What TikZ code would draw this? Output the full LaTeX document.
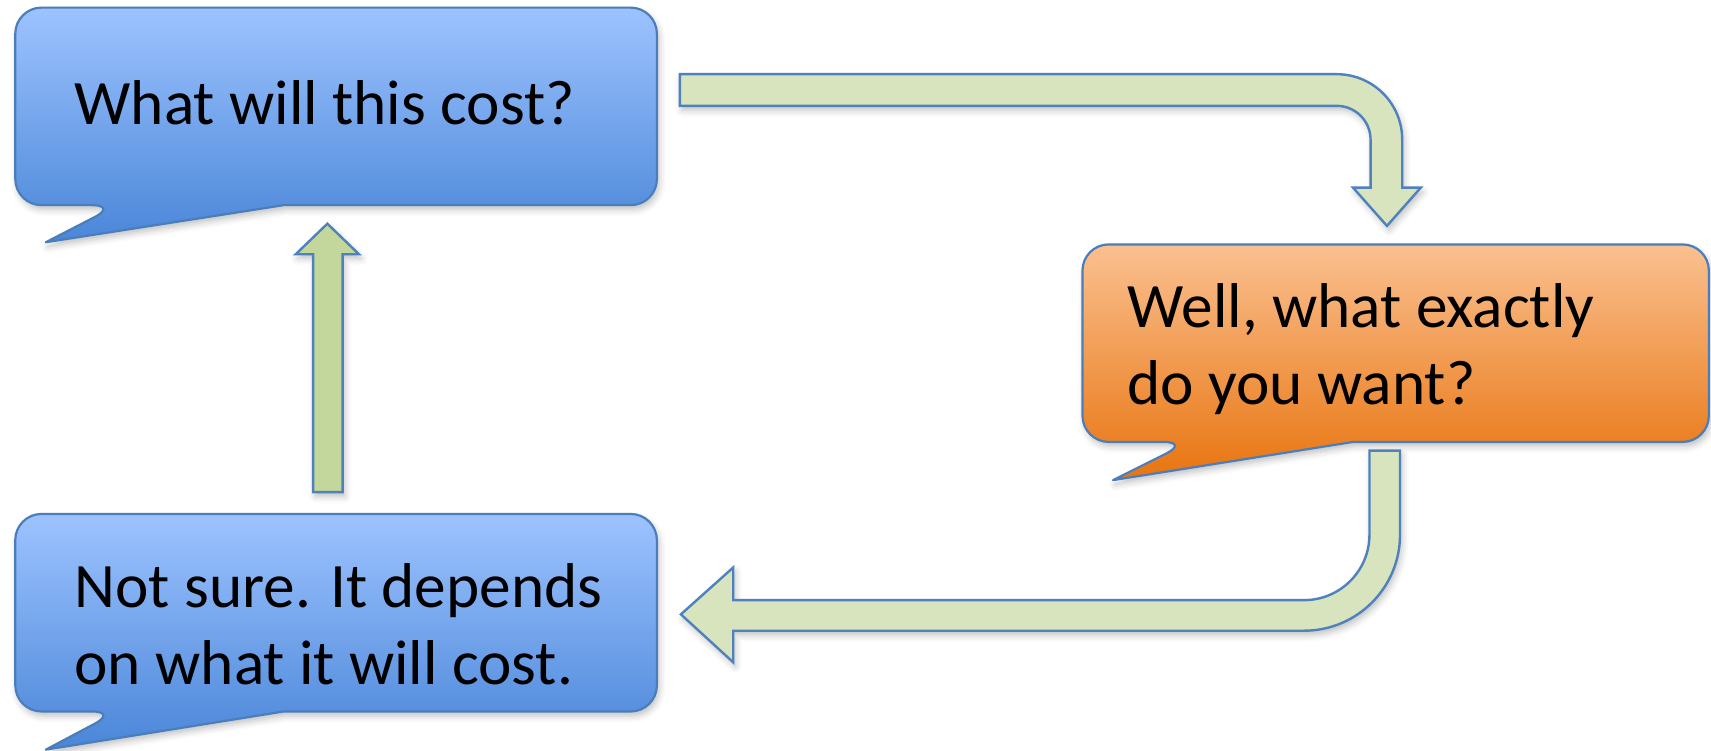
\documentclass[tikz,border=0pt]{standalone}
\usepackage{fontspec}
\setmainfont{Carlito}
\usetikzlibrary{shadows.blur}
\definecolor{blueTop}{HTML}{9DC3FF}
\definecolor{blueBot}{HTML}{4A86D8}
\definecolor{orTop}{HTML}{FAC090}
\definecolor{orBot}{HTML}{E8740F}
\definecolor{edge}{HTML}{4A7EBB}
\definecolor{arrowFill}{HTML}{D7E4BD}
\definecolor{arrowFillB}{HTML}{C3D69B}
\definecolor{arrowEdge}{HTML}{4F81BD}
\tikzset{
  bubble/.style={draw=edge, line width=1pt, line join=round,
    blur shadow={shadow xshift=1pt, shadow yshift=-2pt, shadow blur radius=3pt, shadow opacity=25}},
  bluebubble/.style={bubble, top color=blueTop, bottom color=blueBot},
  orangebubble/.style={bubble, top color=orTop, bottom color=orBot},
  blockarrow/.style={draw=arrowEdge, line width=1.1pt, line join=miter, fill=arrowFill,
    blur shadow={shadow xshift=1pt, shadow yshift=-2pt, shadow blur radius=3pt, shadow opacity=25}},
  speech/.style={font=\fontsize{29}{35}\selectfont, inner sep=0pt, align=left, anchor=west, text=black}
}
\begin{document}
\begin{tikzpicture}[x=0.5pt,y=-0.5pt]
\useasboundingbox (0,0) rectangle (1568,688.2);
% top-left bubble
\path[bluebubble] (400,7) [rounded corners=12pt] -- (14,7) -- (14,188) -- (108,188) [sharp corners] -- (42,222) -- (260,188) -- (400,188) [rounded corners=12pt] -- (602,188) -- (602,7) -- cycle;
% right bubble
\path[orangebubble] (1300,224) [rounded corners=12pt] -- (992,224) -- (992,405) -- (1090,405) [sharp corners] -- (1020,440) -- (1240,405) -- (1300,405) [rounded corners=12pt] -- (1566,405) -- (1566,224) -- cycle;
% bottom-left bubble
\path[bluebubble] (400,471) [rounded corners=12pt] -- (14,471) -- (14,652) -- (108,652) [sharp corners] -- (42,687) -- (260,652) -- (400,652) [rounded corners=12pt] -- (602,652) -- (602,471) -- cycle;

\node[speech] (q1) at (68,94) {What will this cost?};
\node[speech] (q2) at (1033,320) {Well, what exactly\\do you want?};
\node[speech] (q3) at (68,572) {Not sure. It depends\\on what it will cost.};

% arrow from q1 to q2
\path[blockarrow] (623,68) -- (1225,68) arc(-90:0:60) -- (1285,172) -- (1302,172) -- (1271,207) -- (1240,172) -- (1256,172) -- (1256,128) arc(0:-90:31) -- (623,97) -- cycle;
% arrow from q2 to q3
\path[blockarrow] (1255,413) -- (1283,413) -- (1283,490) arc(0:90:88) -- (672,578) -- (672,607) -- (624,563) -- (672,520) -- (672,550) -- (1195,550) arc(90:0:60) -- cycle;
% arrow from q3 to q1
\path[blockarrow, fill=arrowFillB] (287,451) -- (287,233) -- (271,233) -- (300,205) -- (329,233) -- (314,233) -- (314,451) -- cycle;
\end{tikzpicture}
\end{document}
